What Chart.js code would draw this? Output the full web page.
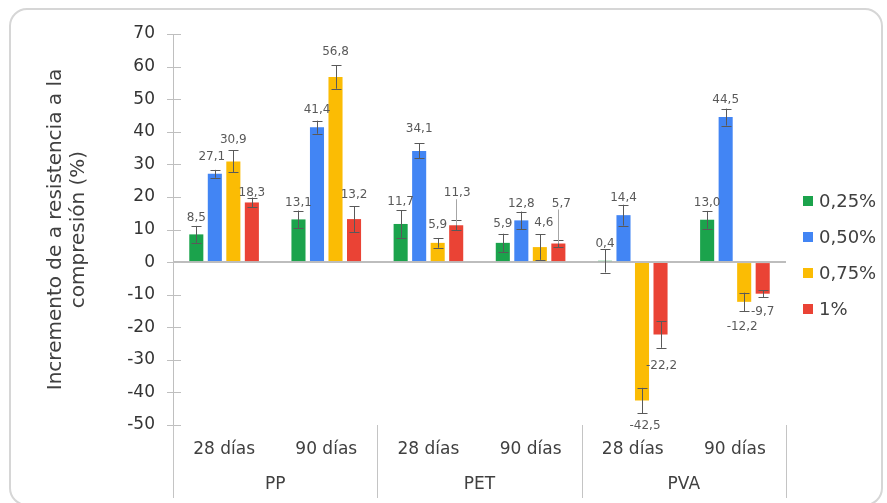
<!DOCTYPE html>
<html lang="es">
<head>
<meta charset="utf-8">
<title>Incremento de la resistencia a la compresión</title>
<script src="https://cdn.jsdelivr.net/npm/chart.js@4.4.1/dist/chart.umd.min.js"></script>
<style>
    html, body { margin: 0; padding: 0; background: #ffffff; }
    .wrap { position: relative; width: 887px; height: 503px; overflow: hidden; }
    .frame {
        position: absolute; left: 9px; top: 8px; width: 874px; height: 498px;
        border: 2px solid #d6d6d6; border-radius: 18px; box-sizing: border-box;
    }
    #grafico { position: absolute; left: 0; top: 0; }
</style>
</head>
<body>
<div class="wrap">
    <div class="frame"></div>
    <canvas id="grafico" width="887" height="503"></canvas>
</div>
<script>
// --- DATOS ---
const categorias = ['28 días', '90 días', '28 días', '90 días', '28 días', '90 días'];
const grupos = ['PP', 'PET', 'PVA'];
const series = ['0,25%', '0,50%', '0,75%', '1%'];

const valores025 = [8.5, 13.1, 11.7, 5.9, 0.4, 13.0];
const valores050 = [27.1, 41.4, 34.1, 12.8, 14.4, 44.5];
const valores075 = [30.9, 56.8, 5.9, 4.6, -42.5, -12.2];
const valores100 = [18.3, 13.2, 11.3, 5.7, -22.2, -9.7];

// desviación (±) de cada barra
const error025 = [2.6, 2.7, 4.2, 2.8, 3.6, 2.7];
const error050 = [1.2, 2.0, 2.3, 2.7, 3.2, 2.6];
const error075 = [3.4, 3.6, 1.5, 3.9, 3.9, 2.8];
const error100 = [1.5, 4.0, 1.6, 1.2, 4.1, 1.1];

const yMin = -50, yMax = 70, yPaso = 10;

// --- ESTILO ---
const FUENTE = "'DejaVu Sans', 'Liberation Sans', Arial, sans-serif";
const colores = ['#1ba34c', '#4285f4', '#fbbc04', '#ea4335'];
const errores = [error025, error050, error075, error100];

// etiquetas movidas a mano: [dx, dy, lineaGuia] respecto al extremo de la barra
const ajusteEtiquetas = {
    '0-2': [0, -22], '0-3': [0, -19],
    '1-0': [-3, -17], '1-2': [0, -22],
    '2-0': [0, -22], '2-1': [0, -25], '2-2': [0, -18], '2-3': [4, -24], '2-4': [3, 25], '2-5': [-2, 25],
    '3-0': [0, -10], '3-1': [0, -24], '3-2': [1, -32, true], '3-3': [3, -40, true], '3-4': [1, 31], '3-5': [0, 18]
};

const fmt = v => v.toFixed(1).replace('.', ',');

// --- PLUGIN: barras de error, etiquetas, grupos, leyenda y título ---
const decoraciones = {
    id: 'decoraciones',
    afterDatasetsDraw(chart) {
        const { ctx, chartArea, scales: { x, y } } = chart;
        ctx.save();

        // marcas cruzadas del eje Y
        ctx.strokeStyle = '#bfbfbf';
        ctx.lineWidth = 1;
        for (let v = yMin; v <= yMax; v += yPaso) {
            const py = Math.round(y.getPixelForValue(v)) + 0.5;
            ctx.beginPath();
            ctx.moveTo(chartArea.left - 6, py);
            ctx.lineTo(chartArea.left + 8, py);
            ctx.stroke();
        }

        // separadores de grupo bajo el eje
        const fondo = 498;
        const bordes = [chartArea.left];
        for (let g = 1; g < grupos.length; g++) {
            bordes.push((x.getPixelForValue(g * 2 - 1) + x.getPixelForValue(g * 2)) / 2);
        }
        bordes.push(chartArea.right);
        ctx.strokeStyle = '#c4c4c4';
        bordes.forEach(bx => {
            const px = Math.round(bx) + 0.5;
            ctx.beginPath();
            ctx.moveTo(px, chartArea.bottom);
            ctx.lineTo(px, fondo);
            ctx.stroke();
        });

        // nombres de grupo
        ctx.fillStyle = '#404040';
        ctx.font = `17px ${FUENTE}`;
        ctx.textAlign = 'center';
        ctx.textBaseline = 'middle';
        grupos.forEach((g, i) => {
            const cx = (x.getPixelForValue(i * 2) + x.getPixelForValue(i * 2 + 1)) / 2;
            ctx.fillText(g, cx, 485);
        });

        // barras de error
        ctx.strokeStyle = '#595959';
        ctx.lineWidth = 1;
        chart.data.datasets.forEach((ds, di) => {
            const meta = chart.getDatasetMeta(di);
            meta.data.forEach((bar, i) => {
                const v = ds.data[i];
                const e = errores[di][i];
                const px = Math.round(bar.x) + 0.5;
                const y1 = y.getPixelForValue(v + e);
                const y2 = y.getPixelForValue(v - e);
                ctx.beginPath();
                ctx.moveTo(px, y1); ctx.lineTo(px, y2);
                ctx.moveTo(px - 5, Math.round(y1) + 0.5); ctx.lineTo(px + 5, Math.round(y1) + 0.5);
                ctx.moveTo(px - 5, Math.round(y2) + 0.5); ctx.lineTo(px + 5, Math.round(y2) + 0.5);
                ctx.stroke();
            });
        });

        // etiquetas de valor
        ctx.font = `12px ${FUENTE}`;
        chart.data.datasets.forEach((ds, di) => {
            const meta = chart.getDatasetMeta(di);
            meta.data.forEach((bar, i) => {
                const v = ds.data[i];
                const aj = ajusteEtiquetas[`${di}-${i}`] || [0, v >= 0 ? -17 : 24];
                const lx = bar.x + aj[0];
                const ly = bar.y + aj[1];
                if (aj[2]) {
                    ctx.strokeStyle = '#a6a6a6';
                    ctx.beginPath();
                    ctx.moveTo(Math.round(bar.x) + 0.5, ly + 6);
                    ctx.lineTo(Math.round(bar.x) + 0.5, bar.y);
                    ctx.stroke();
                }
                ctx.fillStyle = '#595959';
                ctx.fillText(fmt(v), lx, ly);
            });
        });

        // leyenda
        ctx.font = `18px ${FUENTE}`;
        ctx.textAlign = 'left';
        chart.data.datasets.forEach((ds, di) => {
            const cy = 201 + di * 36;
            ctx.fillStyle = ds.backgroundColor;
            ctx.fillRect(803, cy - 5, 10, 10);
            ctx.fillStyle = '#404040';
            ctx.fillText(ds.label, 819, cy + 1);
        });

        // título del eje Y en dos líneas
        ctx.fillStyle = '#404040';
        ctx.font = `20px ${FUENTE}`;
        ctx.textAlign = 'center';
        ctx.textBaseline = 'alphabetic';
        const tituloY = ['Incremento de a resistencia a la', 'compresión (%)'];
        const cy = (chartArea.top + chartArea.bottom) / 2;
        [61, 84].forEach((bx, k) => {
            ctx.save();
            ctx.translate(bx, cy);
            ctx.rotate(-Math.PI / 2);
            ctx.fillText(tituloY[k], 0, 0);
            ctx.restore();
        });

        ctx.restore();
    }
};

// --- GRÁFICO ---
const valores = [valores025, valores050, valores075, valores100];

new Chart(document.getElementById('grafico').getContext('2d'), {
    type: 'bar',
    data: {
        labels: categorias,
        datasets: series.map((s, i) => ({
            label: s,
            data: valores[i],
            backgroundColor: colores[i],
            borderWidth: 0,
            categoryPercentage: 0.725,
            barPercentage: 0.76
        }))
    },
    options: {
        responsive: false,
        devicePixelRatio: 1,
        animation: false,
        layout: { padding: { top: 34, right: 101, bottom: 0, left: 0 } },
        plugins: {
            legend: { display: false },
            tooltip: { enabled: false }
        },
        scales: {
            x: {
                grid: { display: true, drawOnChartArea: false, drawTicks: false, color: 'rgba(0,0,0,0)' },
                border: { display: false },
                ticks: { color: '#404040', font: { family: FUENTE, size: 17 }, padding: 14, maxRotation: 0, autoSkip: false },
                afterFit: scale => { scale.height = 78; }
            },
            y: {
                min: yMin,
                max: yMax,
                grid: {
                    drawTicks: false,
                    color: c => c.tick.value === 0 ? '#bdbdbd' : 'rgba(0,0,0,0)',
                    lineWidth: c => c.tick.value === 0 ? 2 : 0
                },
                border: { display: true, color: '#bfbfbf', width: 1 },
                ticks: { stepSize: yPaso, color: '#333333', font: { family: FUENTE, size: 17 }, padding: 18 },
                afterFit: scale => { scale.width = 173; }
            }
        }
    },
    plugins: [decoraciones]
});
</script>
</body>
</html>
